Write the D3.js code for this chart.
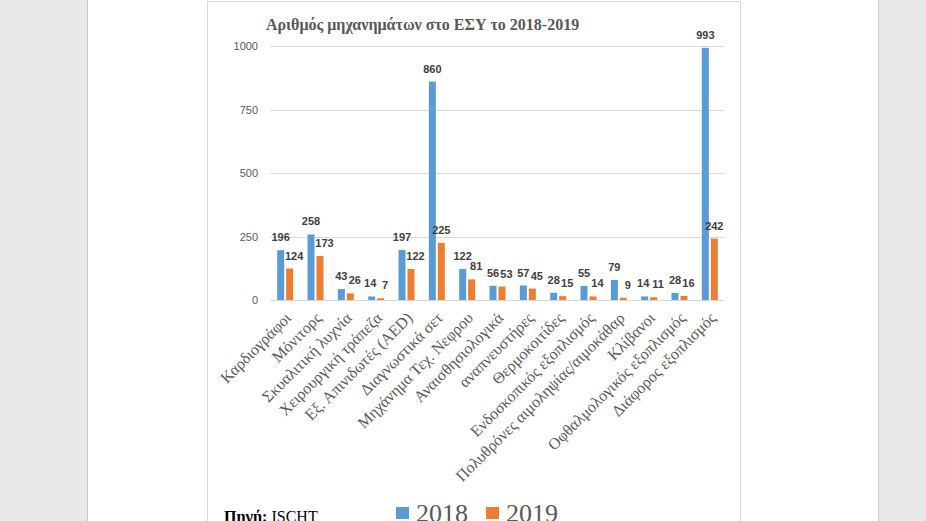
<!DOCTYPE html>
<html>
<head>
<meta charset="utf-8">
<script src="https://cdn.jsdelivr.net/npm/d3@7/dist/d3.min.js"></script>
<style>
  html, body { margin: 0; padding: 0; background: #fff; }
  svg { display: block; }
</style>
</head>
<body>
<svg id="chart" width="926" height="521"></svg>
<script>
const categories = [
  "Καρδιογράφοι", "Μόνιτορς", "Σκυαλιτική λυχνία", "Χειρουργική τράπεζα",
  "Εξ. Απινιδωτές (AED)", "Διαγνωστικά σετ", "Μηχάνημα Τεχ. Νεφρου",
  "Αναισθησιολογικά", "αναπνευστήρες", "Θερμοκοιτίδες",
  "Ενδοσκοπικός εξοπλισμός", "Πολυθρόνες αιμοληψίας/αιμοκάθαρ", "Κλίβανοι",
  "Οφθαλμολογικός εξοπλισμός", "Διάφορος εξοπλισμός"
];
const series = ["2018", "2019"];
const values2018 = [196, 258, 43, 14, 197, 860, 122, 56, 57, 28, 55, 79, 14, 28, 993];
const values2019 = [124, 173, 26, 7, 122, 225, 81, 53, 45, 15, 14, 9, 11, 16, 242];
const yTicks = [0, 250, 500, 750, 1000];
const titleText = "Αριθμός μηχανημάτων στο ΕΣΥ το 2018-2019";
const colors = { "2018": "#5B9BD5", "2019": "#ED7D31" };

const svg = d3.select("#chart");
const W = 926, H = 521;

// page background panels
const defs = svg.append("defs");
const pat = defs.append("pattern").attr("id", "dots").attr("width", 8).attr("height", 8)
  .attr("patternUnits", "userSpaceOnUse");
pat.append("rect").attr("width", 8).attr("height", 8).attr("fill", "#e9e9e9");
pat.append("rect").attr("x", 1).attr("y", 1).attr("width", 1).attr("height", 1).attr("fill", "#dadada");
pat.append("rect").attr("x", 5).attr("y", 5).attr("width", 1).attr("height", 1).attr("fill", "#dadada");

svg.append("rect").attr("x", 0).attr("y", 0).attr("width", 87).attr("height", H).attr("fill", "url(#dots)");
svg.append("line").attr("x1", 87.5).attr("x2", 87.5).attr("y1", 0).attr("y2", H).attr("stroke", "#c8c8c8");
svg.append("rect").attr("x", 879).attr("y", 0).attr("width", W - 879).attr("height", H).attr("fill", "url(#dots)");
svg.append("line").attr("x1", 878.5).attr("x2", 878.5).attr("y1", 0).attr("y2", H).attr("stroke", "#c8c8c8");

// chart box
svg.append("rect").attr("x", 207.5).attr("y", 1.5).attr("width", 533).attr("height", 560)
  .attr("fill", "#fff").attr("stroke", "#d9d9d9");

// scales
const x0 = d3.scaleBand().domain(categories).range([270, 725]).paddingInner(0).paddingOuter(0);
const x1 = d3.scaleBand().domain(series).range([0, x0.bandwidth()]).paddingInner(0.22).paddingOuter(0.8);
const y = d3.scaleLinear().domain([0, 1000]).range([300, 46]);

// gridlines
svg.append("g").selectAll("line").data(yTicks).join("line")
  .attr("x1", 270).attr("x2", 725)
  .attr("y1", d => Math.round(y(d)) + 0.5).attr("y2", d => Math.round(y(d)) + 0.5)
  .attr("stroke", "#d9d9d9").attr("stroke-width", 1);

// y axis labels
const yAxis = d3.axisLeft(y).tickValues(yTicks).tickFormat(d3.format("d")).tickSize(0).tickPadding(0);
const gy = svg.append("g").attr("transform", "translate(258,0)").call(yAxis);
gy.select(".domain").remove();
gy.selectAll("text").attr("font-family", "'Liberation Sans', Arial, sans-serif")
  .attr("font-size", 11).attr("fill", "#595959");

// title
svg.append("text").attr("x", 266).attr("y", 30)
  .attr("font-family", "'Liberation Serif', 'Times New Roman', serif")
  .attr("font-weight", "bold").attr("font-size", 16).attr("fill", "#595959")
  .text(titleText);

// bars
const rows = categories.map((c, i) => ({ cat: c, vals: [
  { s: "2018", v: values2018[i] }, { s: "2019", v: values2019[i] }] }));

const groups = svg.append("g").selectAll("g").data(rows).join("g")
  .attr("transform", d => `translate(${x0(d.cat)},0)`);

groups.selectAll("rect").data(d => d.vals).join("rect")
  .attr("x", d => x1(d.s)).attr("width", x1.bandwidth())
  .attr("y", d => y(d.v)).attr("height", d => y(0) - y(d.v))
  .attr("fill", d => colors[d.s]);

groups.selectAll("text").data(d => d.vals).join("text")
  .attr("x", d => x1(d.s) + x1.bandwidth() / 2 + (d.s === "2019" && d.v < 200 ? 4.5 : (d.s === "2018" && d.v < 20 ? -1.5 : 0)))
  .attr("y", d => y(d.v) - 9)
  .attr("text-anchor", "middle")
  .attr("font-family", "'Liberation Sans', Arial, sans-serif")
  .attr("font-weight", "bold").attr("font-size", 11).attr("fill", "#404040")
  .text(d => d.v);

// category labels
const xAxis = d3.axisBottom(x0).tickSize(0).tickPadding(0);
const gx = svg.append("g").attr("transform", "translate(0,300)").call(xAxis);
gx.select(".domain").remove();
gx.selectAll("text")
  .attr("text-anchor", "end")
  .attr("dy", 0).attr("y", 0)
  .attr("transform", "translate(7,19) rotate(-45)")
  .attr("font-family", "'Liberation Serif', 'Times New Roman', serif")
  .attr("font-size", 16).attr("fill", "#595959");

// source text
const src = svg.append("text").attr("x", 224).attr("y", 522)
  .attr("font-family", "'Liberation Serif', 'Times New Roman', serif")
  .attr("font-size", 16).attr("fill", "#000");
src.append("tspan").attr("font-weight", "bold").text("Πηγή:");
src.append("tspan").text(" ISCHT");

// legend
const legX = d3.scalePoint().domain(series).range([396, 486]);
const leg = svg.append("g").selectAll("g").data(series).join("g")
  .attr("transform", d => `translate(${legX(d)},0)`);
leg.append("rect").attr("x", 0).attr("y", 507).attr("width", 13).attr("height", 12)
  .attr("fill", d => colors[d]);
leg.append("text").attr("x", 20).attr("y", 522)
  .attr("font-family", "'Liberation Serif', 'Times New Roman', serif")
  .attr("font-size", 26).attr("fill", "#595959")
  .text(d => d);
</script>
</body>
</html>
